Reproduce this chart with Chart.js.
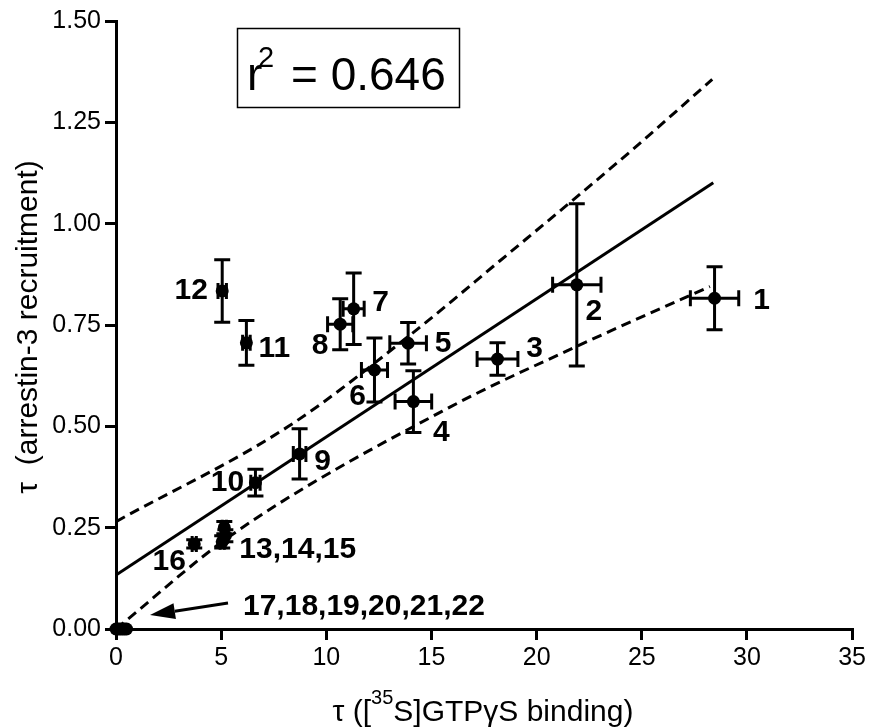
<!DOCTYPE html>
<html><head><meta charset="utf-8">
<script src="https://cdn.jsdelivr.net/npm/chart.js@4.4.0/dist/chart.umd.min.js"></script>
<style>html,body{margin:0;padding:0;background:#fff;}#wrap{width:869px;height:728px;position:relative;}</style>
</head><body><div id="wrap"><canvas id="c" width="869" height="728"></canvas></div>
<script>
// ---- data ----
const pointNames = ['1','2','3','4','5','6','7','8','9','10','11','12','13','14','15','16','17','18','19','20','21','22'];
const xVals = [28.46, 21.91, 18.14, 14.14, 13.89, 12.29, 11.30, 10.66, 8.73, 6.63, 6.20, 5.05, 5.15, 5.20, 5.05, 3.72, 0.0, 0.1, 0.2, 0.3, 0.4, 0.5];
const yVals = [0.816, 0.849, 0.666, 0.561, 0.705, 0.639, 0.790, 0.752, 0.432, 0.361, 0.706, 0.834, 0.250, 0.230, 0.215, 0.210, 0, 0, 0, 0, 0, 0];
const xErr  = [1.15, 1.15, 0.97, 0.87, 0.87, 0.62, 0.50, 0.60, 0.30, 0.22, 0.18, 0.20, 0.10, 0.10, 0.10, 0.10, 0, 0, 0, 0, 0, 0];
const yErr  = [0.078, 0.200, 0.040, 0.076, 0.051, 0.079, 0.088, 0.063, 0.062, 0.033, 0.055, 0.077, 0.015, 0.015, 0.015, 0.010, 0, 0, 0, 0, 0, 0];
const fitX = [0, 28.4];
const fitY = [0.133, 1.101];
const upperX = [0, 8.2, 14.1, 18.2, 24.5, 28.35];
const upperY = [0.265, 0.500, 0.730, 0.906, 1.180, 1.356];
const lowerX = [0, 5.5, 15.9, 21.9, 28.24];
const lowerY = [0.000, 0.232, 0.548, 0.697, 0.845];
const xTicks = [0, 5, 10, 15, 20, 25, 30, 35];
const yTicks = [0, 0.25, 0.5, 0.75, 1.0, 1.25, 1.5];
const r2Text = '0.646';
const xTitleParts = ['\u03C4 ([', '35', 'S]GTP\u03B3S binding)'];
const yTitle = '\u03C4  (arrestin-3 recruitment)';
// label groups: text, index of anchor point
const labelGroups = [
  ['1', 0], ['2', 1], ['3', 2], ['4', 3], ['5', 4], ['6', 5], ['7', 6], ['8', 7], ['9', 8],
  ['10', 9], ['11', 10], ['12', 11], ['13,14,15', 12], ['16', 15], ['17,18,19,20,21,22', 16]
];

// ---- styling / placement (pixels) ----
const FONT = "'Liberation Sans', Arial, sans-serif";
const labelOffsets = {
  '1': [47, 2, 'center'], '2': [17, 27, 'center'], '3': [37, -10, 'center'], '4': [28, 31, 'center'],
  '5': [35, 0, 'center'], '6': [-17, 27, 'center'], '7': [27, -6, 'center'], '8': [-20, 22, 'center'],
  '9': [23, 8, 'center'], '10': [-28, 0, 'center'], '11': [28, 6, 'center'], '12': [-31, 0, 'center'],
  '13,14,15': [15, 22, 'left'], '16': [-25, 18, 'center'], '17,18,19,20,21,22': [127, -22, 'left']
};

const pts = xVals.map((x, i) => ({x, y: yVals[i]}));
const toPts = (xs, ys) => xs.map((x, i) => ({x, y: ys[i]}));

const errorBars = {
  id: 'errorBars',
  afterDatasetsDraw(chart) {
    const {ctx, scales: {x, y}} = chart;
    ctx.save();
    ctx.strokeStyle = '#000';
    ctx.lineWidth = 3;
    ctx.lineCap = 'butt';
    const cap = 8;
    xVals.forEach((xv, i) => {
      const px = x.getPixelForValue(xv), py = y.getPixelForValue(yVals[i]);
      if (yErr[i] > 0) {
        const t = y.getPixelForValue(yVals[i] + yErr[i]), b = y.getPixelForValue(yVals[i] - yErr[i]);
        ctx.beginPath();
        ctx.moveTo(px, t); ctx.lineTo(px, b);
        ctx.moveTo(px - cap, t); ctx.lineTo(px + cap, t);
        ctx.moveTo(px - cap, b); ctx.lineTo(px + cap, b);
        ctx.stroke();
      }
      if (xErr[i] > 0) {
        const l = x.getPixelForValue(xVals[i] - xErr[i]), r = x.getPixelForValue(xVals[i] + xErr[i]);
        ctx.beginPath();
        ctx.moveTo(l, py); ctx.lineTo(r, py);
        ctx.moveTo(l, py - cap); ctx.lineTo(l, py + cap);
        ctx.moveTo(r, py - cap); ctx.lineTo(r, py + cap);
        ctx.stroke();
      }
    });
    ctx.restore();
  }
};

const annotations = {
  id: 'annotations',
  afterDraw(chart) {
    const {ctx, scales: {x, y}} = chart;
    ctx.save();
    ctx.fillStyle = '#000';
    ctx.strokeStyle = '#000';
    // point labels
    ctx.font = 'bold 30px ' + FONT;
    ctx.textBaseline = 'middle';
    labelGroups.forEach(([txt, idx]) => {
      const o = labelOffsets[txt];
      ctx.textAlign = o[2];
      ctx.fillText(txt, x.getPixelForValue(xVals[idx]) + o[0], y.getPixelForValue(yVals[idx]) + o[1]);
    });
    // arrow to points 17-22
    const ox = x.getPixelForValue(xVals[16]), oy = y.getPixelForValue(yVals[16]);
    const tx = ox + 112, ty = oy - 26, hx = ox + 34, hy = oy - 14;
    const ang = Math.atan2(hy - ty, hx - tx);
    const hl = 25, hw = 8;
    const bx = hx - hl * Math.cos(ang), by = hy - hl * Math.sin(ang);
    ctx.lineWidth = 3;
    ctx.beginPath(); ctx.moveTo(tx, ty); ctx.lineTo(bx, by); ctx.stroke();
    ctx.beginPath();
    ctx.moveTo(hx, hy);
    ctx.lineTo(bx + hw * Math.sin(ang), by - hw * Math.cos(ang));
    ctx.lineTo(bx - hw * Math.sin(ang), by + hw * Math.cos(ang));
    ctx.closePath(); ctx.fill();
    // r^2 box
    ctx.lineWidth = 1.5;
    ctx.strokeRect(237.5, 28.5, 222, 79);
    ctx.textAlign = 'left';
    ctx.textBaseline = 'alphabetic';
    ctx.font = '46px ' + FONT;
    ctx.fillText('r', 247, 90);
    ctx.font = '29px ' + FONT;
    ctx.fillText('2', 258, 67);
    ctx.font = '46px ' + FONT;
    ctx.fillText('= ' + r2Text, 291, 90);
    // x title with superscript
    ctx.font = '30px ' + FONT;
    const w1 = ctx.measureText(xTitleParts[0]).width;
    const w3 = ctx.measureText(xTitleParts[2]).width;
    ctx.font = '20px ' + FONT;
    const w2 = ctx.measureText(xTitleParts[1]).width;
    const total = w1 + w2 + w3;
    let sx = 483 - total / 2;
    ctx.font = '30px ' + FONT;
    ctx.fillText(xTitleParts[0], sx, 721);
    ctx.font = '20px ' + FONT;
    ctx.fillText(xTitleParts[1], sx + w1, 704);
    ctx.font = '30px ' + FONT;
    ctx.fillText(xTitleParts[2], sx + w1 + w2, 721);
    // y title
    ctx.save();
    ctx.translate(29, (y.top + y.bottom) / 2 + 2);
    ctx.rotate(-Math.PI / 2);
    ctx.textAlign = 'center';
    ctx.textBaseline = 'middle';
    ctx.font = '30px ' + FONT;
    ctx.fillText(yTitle, 0, 0);
    ctx.restore();
    ctx.restore();
  }
};

const axisCommon = {
  type: 'linear',
  grid: {drawOnChartArea: false, drawTicks: true, tickLength: 11, lineWidth: 3, color: '#000'},
  border: {display: true, width: 3, color: '#000'},
};

new Chart(document.getElementById('c'), {
  type: 'scatter',
  data: {
    datasets: [
      {data: toPts(fitX, fitY), showLine: true, borderColor: '#000', borderWidth: 3, pointRadius: 0},
      {data: toPts(upperX, upperY), showLine: true, borderColor: '#000', borderWidth: 3, borderDash: [10, 6], pointRadius: 0, cubicInterpolationMode: 'monotone'},
      {data: toPts(lowerX, lowerY), showLine: true, borderColor: '#000', borderWidth: 3, borderDash: [10, 6], pointRadius: 0, cubicInterpolationMode: 'monotone'},
      {data: pts, pointRadius: 6.5, pointBackgroundColor: '#000', pointBorderWidth: 0, clip: false}
    ]
  },
  options: {
    responsive: false,
    animation: false,
    events: [],
    layout: {padding: {top: 21, right: 16, left: 0, bottom: 0}},
    plugins: {legend: {display: false}, tooltip: {enabled: false}, title: {display: false}},
    scales: {
      x: Object.assign({}, axisCommon, {
        min: 0, max: 35,
        afterBuildTicks: s => { s.ticks = xTicks.map(v => ({value: v})); },
        ticks: {color: '#000', font: {family: FONT, size: 25}, padding: 3, maxRotation: 0, autoSkip: false, callback: v => String(v)},
        afterFit: s => { s.height = 99; }
      }),
      y: Object.assign({}, axisCommon, {
        min: 0, max: 1.5,
        afterBuildTicks: s => { s.ticks = yTicks.map(v => ({value: v})); },
        ticks: {color: '#000', font: {family: FONT, size: 25}, padding: 4, autoSkip: false, callback: v => Number(v).toFixed(2)},
        afterFit: s => { s.width = 116; }
      })
    }
  },
  plugins: [errorBars, annotations]
});
</script>
</body></html>
